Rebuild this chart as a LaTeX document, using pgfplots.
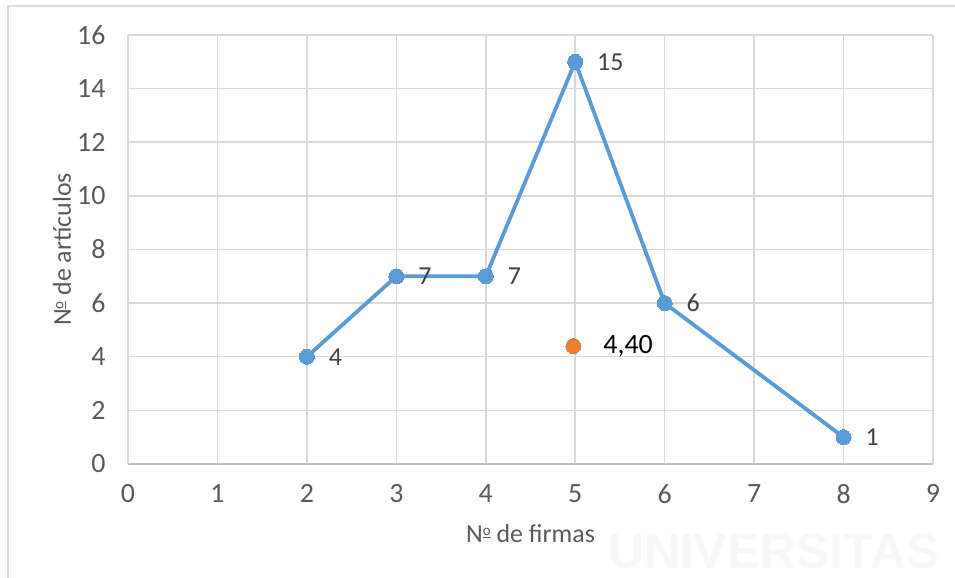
\documentclass[border=0pt]{standalone}
\usepackage{pgfplots}
\pgfplotsset{compat=1.18}
\usepackage{fontspec}
\setmainfont{Carlito}
\newfontfamily\wmfont{Liberation Sans}
\definecolor{ablue}{HTML}{5B9BD5}
\definecolor{aorange}{HTML}{ED7D31}
\definecolor{gridc}{HTML}{D9D9D9}
\definecolor{axisc}{HTML}{BFBFBF}
\definecolor{txtc}{HTML}{595959}
\definecolor{lblc}{HTML}{404040}
\newcommand\ordo{\raisebox{7.5bp}{\fontsize{15}{15}\selectfont\underline{o}}}
\begin{document}
\begin{tikzpicture}[x=1bp,y=1bp]
\path[use as bounding box] (0,0) rectangle (955,578);
\node[anchor=base west, inner sep=0, text=black!3, font=\wmfont\bfseries\fontsize{50}{52}\selectfont] at (608,9) {UNIVERSITAS};
\draw[color=gridc, line width=1.5bp] (8,0) -- (8,572) -- (955,572);
\begin{axis}[
  at={(128bp,114bp)}, anchor=south west,
  scale only axis, width=805bp, height=429bp,
  xmin=0, xmax=9, ymin=0, ymax=16,
  xtick={0,1,...,9}, ytick={0,2,...,16},
  grid=major, grid style={color=gridc, line width=1.5bp},
  axis line style={draw=none}, major tick length=0pt,
  /pgf/number format/assume math mode=true,
  tick label style={font=\fontsize{28}{32}\selectfont, text=txtc},
  yticklabel style={xshift=-19bp},
  xticklabel style={yshift=-17bp},
  xlabel={N\ordo\ de firmas}, ylabel={N\ordo\ de artículos},
  label style={font=\fontsize{26}{30}\selectfont, text=txtc},
  xlabel style={at={(axis description cs:0.5,0)}, anchor=center, yshift=-70bp},
  ylabel style={at={(axis description cs:0,0.5)}, anchor=center, yshift=66bp},
  clip=false,
]
\draw[color=axisc, line width=1.5bp] (axis cs:0,0) -- (axis cs:9,0);
\addplot[color=ablue, line width=3.8bp, mark=*, mark size=7.5bp,
  mark options={fill=ablue, draw=ablue, line width=0pt},
  nodes near coords, point meta=explicit symbolic,
  every node near coord/.append style={anchor=west, inner sep=0pt, xshift=22bp, yshift=0bp, text=lblc, font=\fontsize{26}{30}\selectfont}]
  table[meta=lab] {
x y lab
2 4 4
3 7 7
4 7 7
5 15 15
6 6 6
8 1 1
};
\addplot[only marks, mark=*, mark size=7.5bp, color=aorange,
  mark options={fill=aorange, draw=aorange, line width=0pt},
  nodes near coords, point meta=explicit symbolic,
  every node near coord/.append style={anchor=west, inner sep=0pt, xshift=30bp, text=black, font=\fontsize{28}{32}\selectfont}]
  table[meta=lab] {
x y lab
4.98 4.4 {4,40}
};
\end{axis}
\end{tikzpicture}
\end{document}
